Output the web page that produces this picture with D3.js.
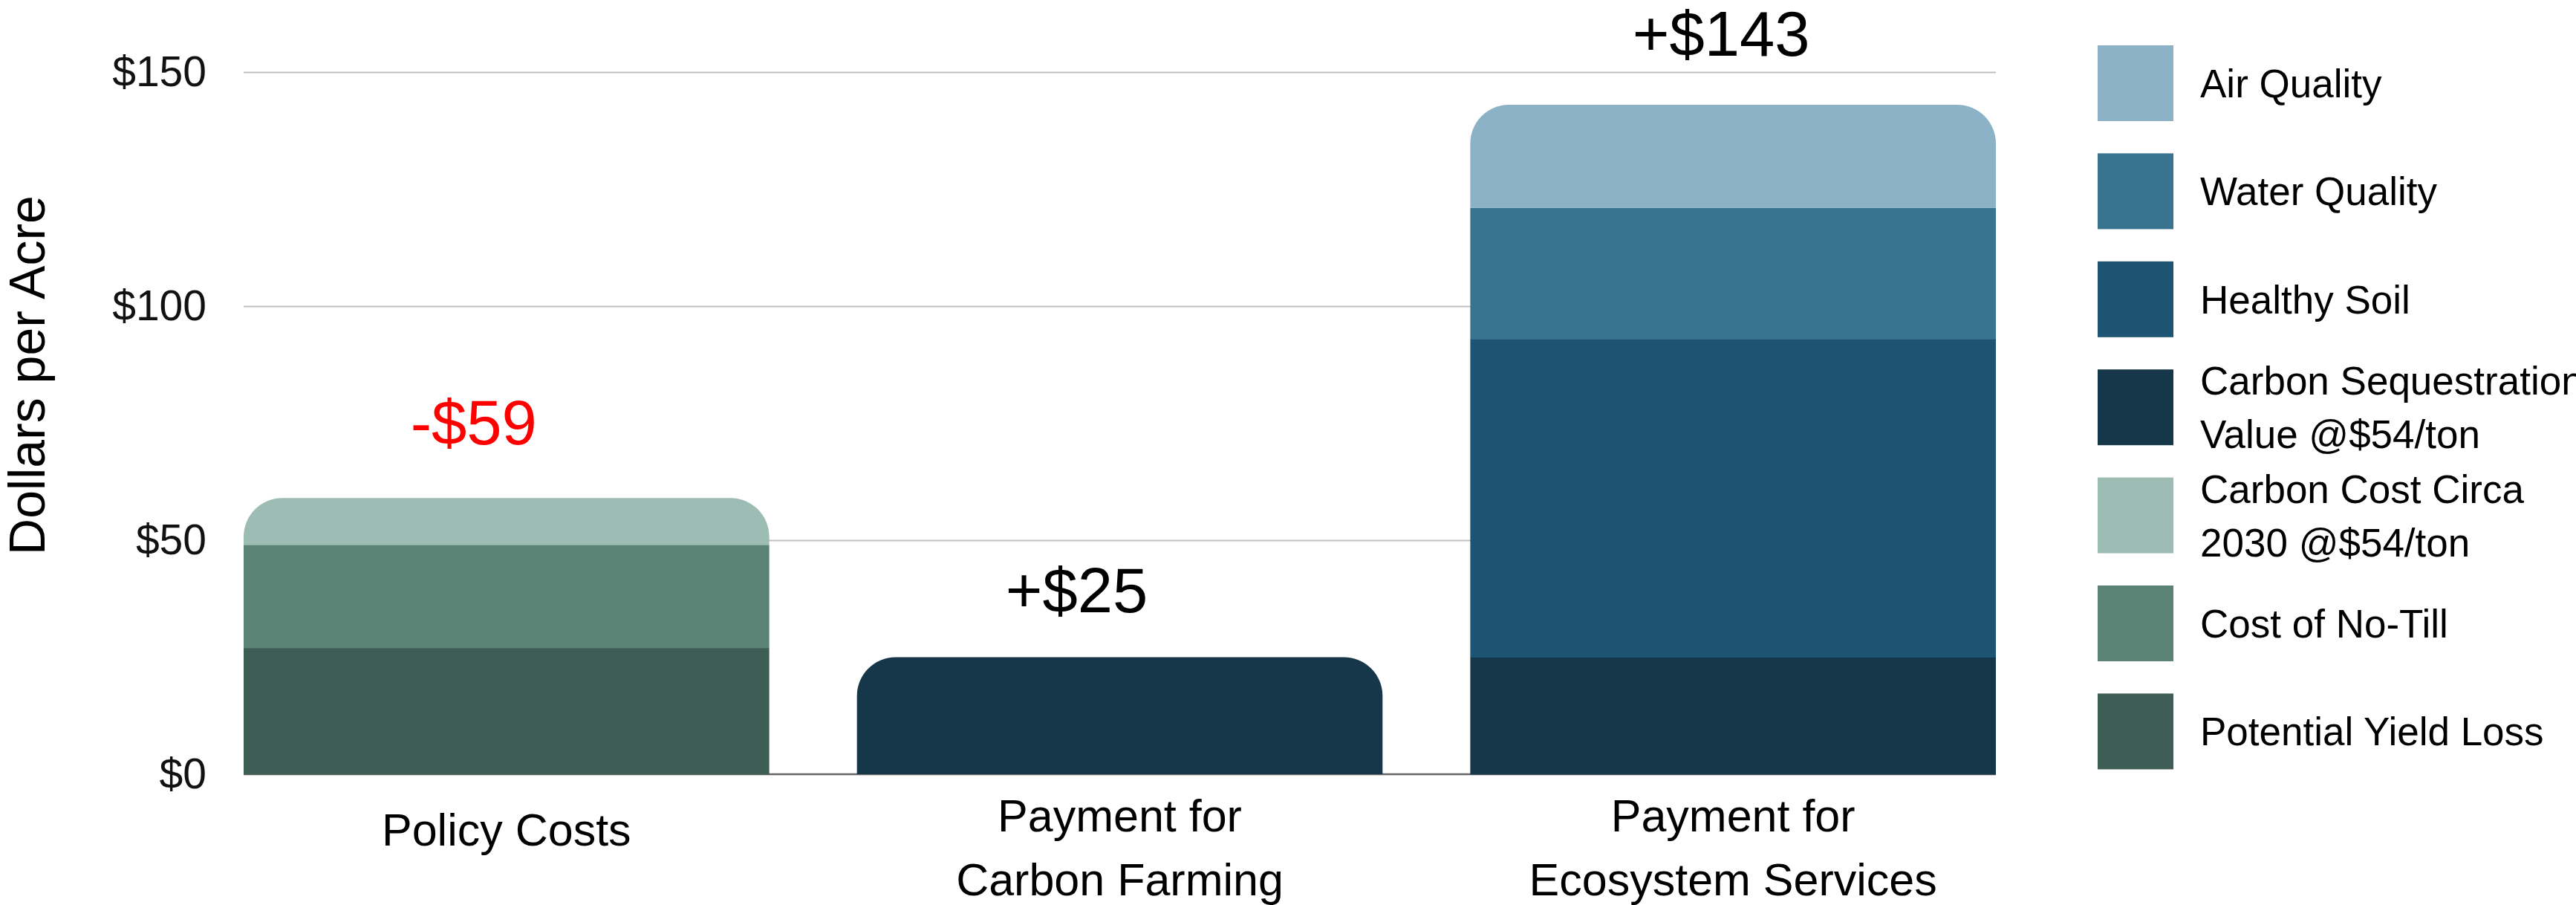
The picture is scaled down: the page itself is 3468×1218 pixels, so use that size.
<!DOCTYPE html>
<html>
<head>
<meta charset="utf-8">
<script src="https://cdn.jsdelivr.net/npm/d3@7"></script>
<style>
    html, body { margin: 0; padding: 0; background: #fff; }
    svg { display: block; font-family: "Liberation Sans", Arial, sans-serif; }
    .grid line { stroke: #c0c0c0; stroke-width: 2; }
    .grid text { fill: #111; }
</style>
</head>
<body>
<div id="chart"></div>
<script>
(function () {
    "use strict";

    // categories, one entry per bar (lines are how the label wraps)
    const categories = ["Policy Costs", "Payment for Carbon Farming", "Payment for Ecosystem Services"];
    const categoryLines = [["Policy Costs"], ["Payment for", "Carbon Farming"], ["Payment for", "Ecosystem Services"]];

    // stack order, bottom to top
    const seriesKeys = ["yield", "notill", "carboncost", "carbonseq", "soil", "water", "air"];

    const potentialYieldLoss = [27, 0, 0];
    const costOfNoTill = [22, 0, 0];
    const carbonCost2030 = [10, 0, 0];
    const carbonSequestration = [0, 25, 25];
    const healthySoil = [0, 0, 68];
    const waterQuality = [0, 0, 28];
    const airQuality = [0, 0, 22];

    const totalLabels = ["-$59", "+$25", "+$143"];

    const yTicks = [0, 50, 100, 150];

    // legend, top to bottom
    const legendKeys = ["air", "water", "soil", "carbonseq", "carboncost", "notill", "yield"];
    const legendLines = [
        ["Air Quality"],
        ["Water Quality"],
        ["Healthy Soil"],
        ["Carbon Sequestration", "Value @$54/ton"],
        ["Carbon Cost Circa", "2030 @$54/ton"],
        ["Cost of No-Till"],
        ["Potential Yield Loss"]
    ];

    const colors = {
        air: "#8bb2c6",
        water: "#38738f",
        soil: "#1d5373",
        carbonseq: "#16374a",
        carboncost: "#9dbdb4",
        notill: "#5a8275",
        yield: "#3d5d55"
    };

    const table = categories.map((c, i) => ({
        category: c,
        yield: potentialYieldLoss[i],
        notill: costOfNoTill[i],
        carboncost: carbonCost2030[i],
        carbonseq: carbonSequestration[i],
        soil: healthySoil[i],
        water: waterQuality[i],
        air: airQuality[i]
    }));

    const width = 3468;
    const height = 1218;
    const margin = { top: 97, right: 781, bottom: 176, left: 328 };
    const plotW = width - margin.left - margin.right;
    const plotH = height - margin.top - margin.bottom;
    const radius = 52;

    // hand-placed total labels in the original
    const labelNudge = [{ dx: -44, dy: -72 }, { dx: -58, dy: -61 }, { dx: -16, dy: -66 }];

    const svg = d3.select("#chart").append("svg")
        .attr("width", width)
        .attr("height", height);

    const canvas = svg.append("g")
        .attr("transform", `translate(${margin.left},${margin.top})`);

    const xScale = d3.scaleBand()
        .domain(categories)
        .range([0, plotW])
        .paddingInner(0.143)
        .paddingOuter(0);

    const yScale = d3.scaleLinear()
        .domain([0, 150])
        .range([plotH, 0]);

    const yAxis = d3.axisLeft(yScale)
        .tickValues(yTicks)
        .tickFormat(d => "$" + d)
        .tickSizeInner(-plotW)
        .tickSizeOuter(0)
        .tickPadding(50);

    const grid = canvas.append("g")
        .attr("class", "grid")
        .call(yAxis);

    grid.select(".domain").remove();
    grid.selectAll("text")
        .attr("font-size", 57)
        .attr("font-family", "Liberation Sans, Arial, sans-serif");
    grid.selectAll(".tick").filter(d => d === 0).select("line").remove();

    // baseline
    canvas.append("line")
        .attr("x1", 0)
        .attr("x2", plotW)
        .attr("y1", yScale(0))
        .attr("y2", yScale(0))
        .attr("stroke", "#666")
        .attr("stroke-width", 2.5);

    const stacked = d3.stack().keys(seriesKeys)(table);

    // which layer is the top one for each bar
    const topKey = table.map(row => {
        let k = null;
        for (const key of seriesKeys) {
            if (row[key] > 0) {
                k = key;
            }
        }
        return k;
    });

    function roundedTop(x, y0, y1, w, r) {
        const h = y0 - y1;
        const rr = Math.min(r, h, w / 2);
        return `M${x},${y0}V${y1 + rr}Q${x},${y1} ${x + rr},${y1}` +
            `H${x + w - rr}Q${x + w},${y1} ${x + w},${y1 + rr}V${y0}Z`;
    }

    function roundedTopArc(x, y0, y1, w, r) {
        const h = y0 - y1;
        const rr = Math.min(r, h, w / 2);
        return `M${x},${y0}V${y1 + rr}A${rr},${rr} 0 0 1 ${x + rr},${y1}` +
            `H${x + w - rr}A${rr},${rr} 0 0 1 ${x + w},${y1 + rr}V${y0}Z`;
    }

    const bars = canvas.append("g").attr("class", "bars");

    for (const layer of stacked) {
        const key = layer.key;
        layer.forEach((seg, i) => {
            if (seg[1] - seg[0] <= 0) {
                return;
            }
            const x = xScale(categories[i]);
            const w = xScale.bandwidth();
            const y0 = yScale(seg[0]);
            const y1 = yScale(seg[1]);
            if (topKey[i] === key) {
                bars.append("path")
                    .attr("d", roundedTopArc(x, y0, y1, w, radius))
                    .attr("fill", colors[key]);
            } else {
                bars.append("rect")
                    .attr("x", x)
                    .attr("y", y1)
                    .attr("width", w)
                    .attr("height", y0 - y1 + 0.5)
                    .attr("fill", colors[key]);
            }
        });
    }

    // totals above bars
    table.forEach((row, i) => {
        const total = d3.sum(seriesKeys, k => row[k]);
        canvas.append("text")
            .attr("x", xScale(categories[i]) + xScale.bandwidth() / 2 + labelNudge[i].dx)
            .attr("y", yScale(total) + labelNudge[i].dy)
            .attr("text-anchor", "middle")
            .attr("font-size", 85)
            .attr("fill", totalLabels[i].startsWith("-") ? "#ff0000" : "#000")
            .text(totalLabels[i]);
    });

    // category labels
    categoryLines.forEach((lines, i) => {
        const cx = xScale(categories[i]) + xScale.bandwidth() / 2;
        const first = lines.length === 1 ? 96 : 77;
        const t = canvas.append("text")
            .attr("text-anchor", "middle")
            .attr("font-size", 61)
            .attr("fill", "#000");
        lines.forEach((line, j) => {
            t.append("tspan")
                .attr("x", cx)
                .attr("y", plotH + first + j * 85.5)
                .text(line);
        });
    });

    // y axis title
    svg.append("text")
        .attr("transform", `translate(60,${margin.top + 408}) rotate(-90)`)
        .attr("text-anchor", "middle")
        .attr("font-size", 68)
        .attr("fill", "#000")
        .text("Dollars per Acre");

    // legend
    const legend = svg.append("g")
        .attr("transform", "translate(2824,61)");

    const swatch = 102;
    const step = 145.4;

    legendKeys.forEach((key, i) => {
        const y = i * step;
        legend.append("rect")
            .attr("x", 0)
            .attr("y", y)
            .attr("width", swatch)
            .attr("height", swatch)
            .attr("fill", colors[key]);

        const lines = legendLines[i];
        const cy = y + swatch / 2;
        const first = cy + 19 - (lines.length - 1) * 36;
        const t = legend.append("text")
            .attr("font-size", 53)
            .attr("fill", "#000");
        lines.forEach((line, j) => {
            t.append("tspan")
                .attr("x", 138)
                .attr("y", first + j * 72)
                .text(line);
        });
    });
}());
</script>
</body>
</html>
